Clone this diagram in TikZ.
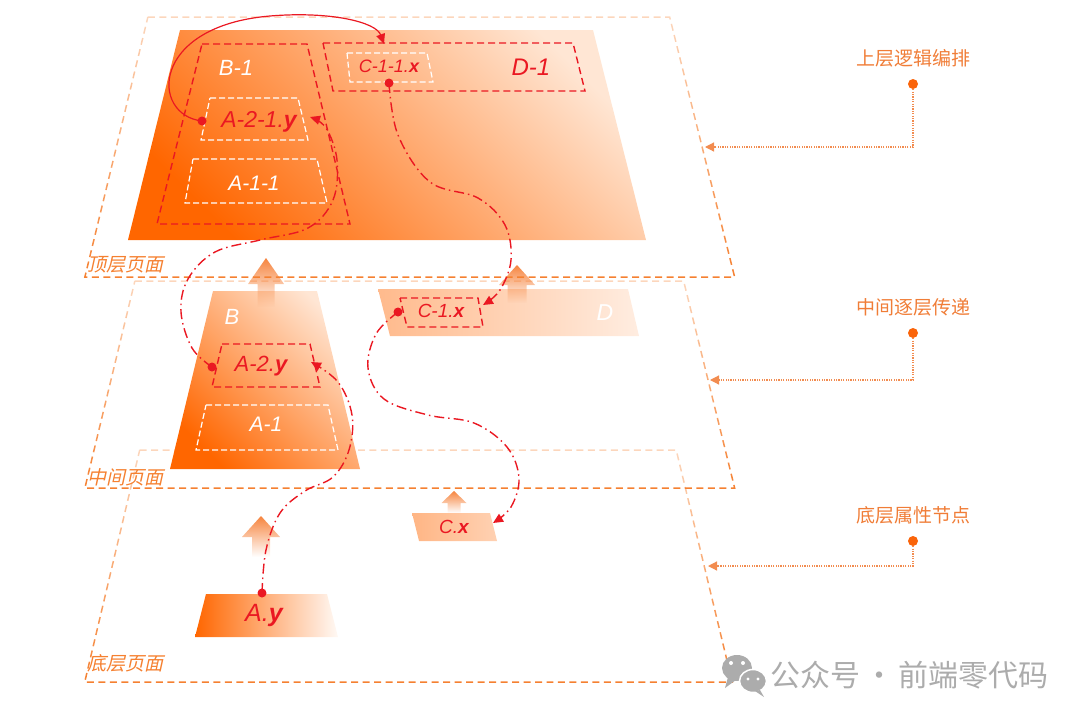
\documentclass[tikz,border=0pt]{standalone}
\usepackage{fontspec}
\setmainfont{Liberation Sans}
\newfontfamily\cjk{Noto Sans CJK SC}
\newfontfamily\cjkslant[FakeSlant=0.22]{Noto Sans CJK SC}
\usepackage{tikz}
\usetikzlibrary{arrows.meta,fadings,calc}
\definecolor{deeporange}{RGB}{255,102,0}
\definecolor{lightorange}{RGB}{255,230,212}
\definecolor{planeorange}{RGB}{245,128,48}
\definecolor{arroworange}{RGB}{246,132,62}
\definecolor{labelorange}{RGB}{240,125,55}
\definecolor{dotorange}{RGB}{250,100,10}
\definecolor{sideorange}{RGB}{242,140,80}
\definecolor{flowred}{RGB}{234,24,34}
\definecolor{wmgrey}{RGB}{172,172,172}
\tikzfading[name=planefade, top color=transparent!68, bottom color=transparent!0]
\tikzset{
  plane/.style={draw=planeorange, line width=1.5pt, dash pattern=on 7pt off 4.5pt, path fading=planefade},
  planelbl/.style={font=\cjkslant\fontsize{19}{19}\selectfont, text=planeorange, anchor=west, inner sep=0pt},
  boxr/.style={draw=flowred, line width=1.4pt, dash pattern=on 7pt off 4pt},
  boxw/.style={draw=white, line width=1.2pt, dash pattern=on 6pt off 3pt},
  lblw/.style={font=\itshape\fontsize{#1}{#1}\selectfont, text=white, inner sep=0pt},
  lblr/.style={lblw=#1, text=flowred},
  fdot/.style={circle, fill=flowred, inner sep=0pt, minimum size=9pt},
  flow/.style={draw=flowred, line width=1.2pt, -{Triangle[length=10pt,width=9pt]}},
  flowdd/.style={flow, line width=1.4pt, dash pattern=on 10pt off 4pt on 1.5pt off 4pt},
  uparr/.style={fill=arroworange, path fading=south},
  sidelbl/.style={font=\cjk\fontsize{19}{19}\selectfont, text=labelorange, inner sep=0pt},
  sidedot/.style={circle, fill=dotorange, inner sep=0pt, minimum size=10pt},
  sidearr/.style={draw=sideorange, line width=1.2pt, dash pattern=on 1.2pt off 1.2pt, -{Triangle[length=9pt,width=9pt]}},
  wmtext/.style={font=\cjk\fontsize{30}{30}\selectfont, text=wmgrey, anchor=west, inner sep=0pt},
}
\begin{document}
\begin{tikzpicture}[x=1pt,y=-1pt]
  \useasboundingbox (0,0) rectangle (1080,718);
  % bottom page
  \draw[plane] (140,450) -- (677,450) -- (733,682) -- (85,682) -- cycle;
  \node[planelbl] (pgBottom) at (87,663) {底层页面};
  \shade[left color=deeporange, right color=deeporange!4!white] (206,594) -- (327,594) -- (338,637) -- (195,637) -- cycle;
  \node[lblr=25] (Ay) at (264,615) {A.\textbf{y}};
  \shade[left color=deeporange!48!white, right color=deeporange!30!white] (412,513) -- (490,513) -- (497,541) -- (419,541) -- cycle;
  \node[lblr=19] (Cx) at (454,527) {C.\textbf{x}};
  % middle page
  \draw[plane] (135,281) -- (684,281) -- (735,488) -- (85,488) -- cycle;
  \node[planelbl] (pgMiddle) at (87,477) {中间页面};
  \shade[top color=lightorange, bottom color=deeporange, shading angle=-45] (213,291) -- (317,291) -- (360,469) -- (170,469) -- cycle;
  \shade[left color=deeporange!45!white, right color=deeporange!12!white] (378,289) -- (628,289) -- (639,336) -- (390,336) -- cycle;
  \draw[boxr] (222,344) -- (310,344) -- (320,387) -- (212,387) -- cycle;
  \draw[boxw] (206,405) -- (328,405) -- (338,450) -- (196,450) -- cycle;
  \draw[boxr] (400,298) -- (478,298) -- (483,327) -- (407,327) -- cycle;
  \node[lblw=22] (B) at (232,317) {B};
  \node[lblr=22] (A2y) at (261,366) {A-2.\textbf{y}};
  \node[lblw=21] (A1) at (266,424) {A-1};
  \node[lblr=19] (C1x) at (441,311) {C-1.\textbf{x}};
  \node[lblw=23] (D) at (605,313) {D};
  % lift arrows
  \foreach \cx/\ty/\yb/\h/\s/\yc in {266/258/284/18/8.5/307, 517/265/285/18/9.5/303, 261/516/537/19/9/557, 454/491/503/12.5/6.5/513}
    \fill[uparr] (\cx,\ty) -- (\cx+\h,\yb) -- (\cx+\s,\yb) -- (\cx+\s,\yc) -- (\cx-\s,\yc) -- (\cx-\s,\yb) -- (\cx-\h,\yb) -- cycle;
  % top page
  \draw[plane] (148,17) -- (670,17) -- (735,277) -- (85,277) -- cycle;
  \node[planelbl] (pgTop) at (87,265) {顶层页面};
  \shade[top color=lightorange, bottom color=deeporange, shading angle=-45] (180,30) -- (593,30) -- (646,240) -- (128,240) -- cycle;
  \draw[boxr] (202,44) -- (307,44) -- (350,224) -- (157,224) -- cycle;
  \draw[boxw] (210,98) -- (298,98) -- (308,140) -- (201,140) -- cycle;
  \draw[boxw] (193,159) -- (317,159) -- (327,203) -- (185,203) -- cycle;
  \draw[boxr] (323,43) -- (573,43) -- (585,91) -- (333,91) -- cycle;
  \draw[boxw] (347,53) -- (427,53) -- (433,82) -- (350,82) -- cycle;
  \node[lblw=22] (B1) at (236,68) {B-1};
  \node[lblr=23] (A21y) at (259,122) {A-2-1.\textbf{y}};
  \node[lblw=21] (A11) at (254,183) {A-1-1};
  \node[lblr=18] (C11x) at (389,66) {C-1-1.\textbf{x}};
  \node[lblr=24] (D1) at (531,67) {D-1};
  % value flow
  \node[fdot] (dAy) at (262,593) {};
  \node[fdot] (dA2y) at (212,367) {};
  \node[fdot] (dA21y) at (202,121) {};
  \node[fdot] (dC11x) at (389,83) {};
  \node[fdot] (dC1x) at (398,312) {};
  \coordinate (inA2y) at (311,362);
  \coordinate (inA21y) at (310,117);
  \coordinate (inC11x) at (384,44);
  \coordinate (inC1x) at (483,305);
  \coordinate (inCx) at (493,523);
  \draw[flowdd] plot[smooth, tension=0.6] coordinates {(dAy.center) (266,550) (280,513) (305,491) (333,477) (349,450) (352,415) (338,382) (inA2y)};
  \draw[flowdd] plot[smooth, tension=0.6] coordinates {(dA2y.center) (192,348) (181,312) (188,279) (215,252) (260,240) (308,228) (333,200) (337,160) (326,128) (inA21y)};
  \draw[flow] (dA21y.center) .. controls (150,115) and (150,26) .. (270,16) .. controls (330,11) and (376,22) .. (inC11x);
  \draw[flowdd] plot[smooth, tension=0.6] coordinates {(dC11x.center) (398,135) (430,182) (478,198) (505,225) (511,260) (500,290) (inC1x)};
  \draw[flowdd] plot[smooth, tension=0.6] coordinates {(dC1x.center) (376,334) (368,368) (384,399) (428,415) (474,423) (507,447) (519,478) (511,507) (inCx)};
  % side notes
  \foreach \nm/\ty/\dy/\ey/\ex/\txt in {Top/58/84/147/705/上层逻辑编排, Mid/307/333/380/710/中间逐层传递, Bot/515/541/566/708/底层属性节点}{
    \node[sidelbl] (tag\nm) at (913,\ty) {\txt};
    \coordinate (edge\nm) at (\ex,\ey);
    \node[sidedot] (knob\nm) at (913,\dy) {};
    \draw[sidearr] (knob\nm) |- (edge\nm);
  }
  % watermark
  \fill[wmgrey] (737,668) ellipse (15 and 13);
  \fill[wmgrey] (728,677) -- (725,688) -- (736,680) -- cycle;
  \filldraw[fill=wmgrey, draw=white, line width=1.5pt] (753,681) ellipse (13.5 and 11.5);
  \fill[wmgrey] (760,690) -- (764,697) -- (755,691) -- cycle;
  \foreach \ex/\ey/\er in {731/663/2, 743/663/2, 748/679/1.7, 758/679/1.7}
    \fill[white] (\ex,\ey) circle (\er);
  \node[wmtext] (wmText) at (770,675) {公众号\hspace{4pt}·\hspace{4pt}前端零代码};
\end{tikzpicture}
\end{document}
